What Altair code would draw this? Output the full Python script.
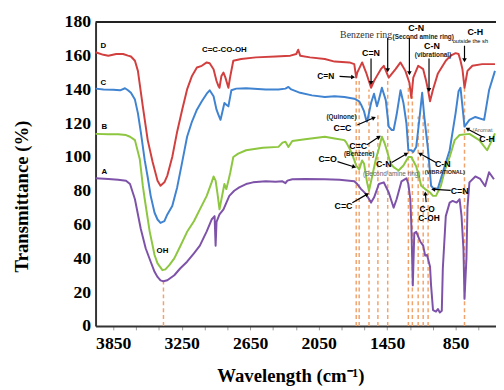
import math
import altair as alt
import pandas as pd

# ---------------- layout constants ----------------
W, H = 407, 309
X_LO, X_HI = 496, 4005
Y_LO, Y_HI = 0, 180

# ---------------- spectra ----------------
D_wn = [4005, 3936, 3893, 3824, 3764, 3721, 3695, 3660, 3634, 3591, 3548, 3505, 3462, 3436, 3402, 3376, 3333, 3290, 3246, 3203,
        3160, 3117, 3074, 3031, 3005, 2971, 2945, 2928, 2919, 2902, 2884, 2867, 2841, 2824, 2798, 2729, 2600, 2427, 2298, 2246,
        2229, 2212, 2126, 1996, 1910, 1781, 1738, 1721, 1712, 1669, 1634, 1591, 1565, 1548, 1505, 1479, 1436, 1376, 1333, 1290,
        1255, 1238, 1221, 1178, 1134, 1108, 1091, 1074, 1048, 1005, 936, 893, 850, 824, 807, 790, 772, 746, 703, 617, 505]
D_val = [162, 160.5, 160, 161, 161, 160, 159.5, 157, 151, 130, 110, 97, 86, 83, 85, 89, 100, 115, 128, 140,
         148, 153, 154, 156, 155.5, 152, 145, 142, 141, 148, 150, 147, 141, 148, 157, 158, 159, 159.5, 160, 161,
         163.5, 160, 159, 158, 156.5, 156, 155, 147, 150, 156, 150, 141, 145, 147, 152, 154, 147, 152, 156, 151,
         144, 135, 147, 154, 152, 145, 139.5, 133, 140, 149.5, 157, 160, 161.5, 161, 157, 152, 141, 151, 154, 155, 155]

C_wn = [4005, 3936, 3850, 3790, 3747, 3721, 3695, 3660, 3634, 3609, 3574, 3548, 3522, 3488, 3462, 3436, 3402, 3376, 3333, 3290,
        3246, 3203, 3160, 3117, 3074, 3031, 3005, 2971, 2945, 2928, 2910, 2893, 2876, 2859, 2841, 2815, 2772, 2686, 2514, 2402,
        2341, 2315, 2290, 2212, 2109, 1996, 1910, 1824, 1738, 1695, 1678, 1652, 1634, 1626, 1609, 1591, 1565, 1539, 1522, 1496,
        1462, 1436, 1410, 1393, 1367, 1333, 1307, 1281, 1264, 1238, 1221, 1195, 1178, 1160, 1143, 1126, 1108, 1091, 1065, 1039,
        1005, 962, 902, 850, 824, 807, 790, 772, 729, 677, 600, 557, 505]
C_val = [140.5, 140, 139.8, 139.5, 140.7, 139.5, 138, 134, 126, 115, 98, 88, 77, 67, 63, 61, 62, 66, 71, 82,
         97, 112, 121, 128, 133, 137.5, 139.5, 136, 128, 125, 122, 127, 132, 131, 130, 139.5, 140.5, 140.7, 140, 140,
         140.5, 141.5, 140, 138, 136.5, 135.5, 136, 135.5, 134.5, 133, 131, 127, 122, 121, 126, 132, 137.5, 130, 134, 141,
         133.7, 118, 116, 116, 125, 139.5, 132, 120, 104, 104, 103, 106, 116, 127, 138, 125, 114, 104, 83, 81,
         81.5, 91, 104, 126, 139, 141, 130, 118, 122, 123.7, 122, 139.5, 151]

B_wn = [4005, 3893, 3807, 3738, 3703, 3660, 3617, 3591, 3574, 3531, 3488, 3462, 3419, 3393, 3359, 3315, 3264, 3203, 3143, 3091,
        3031, 2988, 2971, 2953, 2936, 2919, 2902, 2876, 2859, 2841, 2824, 2798, 2755, 2686, 2540, 2402, 2367, 2341, 2315, 2281,
        2169, 1996, 1910, 1824, 1807, 1764, 1721, 1695, 1669, 1652, 1626, 1609, 1583, 1548, 1522, 1496, 1471, 1453, 1419, 1393,
        1350, 1307, 1264, 1238, 1195, 1169, 1152, 1117, 1074, 1048, 1022, 979, 945, 902, 858, 815, 729, 643, 574, 531, 505]
B_val = [113.7, 113.5, 113.5, 113, 112, 110, 98.5, 83, 75, 56, 42, 37, 33, 33.5, 36, 40, 47, 55.7, 62, 69,
         77, 85, 88.5, 86, 78, 69, 75, 84, 81, 86, 91, 100, 102, 104, 105.5, 106, 108.5, 109, 106, 109.5,
         110.5, 112, 111, 110, 108.5, 103, 95, 92.6, 98, 96, 85, 80, 88, 99, 105, 112, 108, 104, 96, 94,
         92, 95, 100, 100, 94.4, 88, 83, 81, 79, 77, 77, 83, 92, 100, 110, 113, 113.7, 110, 104, 110, 114]

A_wn = [4005, 3893, 3807, 3738, 3703, 3660, 3609, 3566, 3522, 3488, 3462, 3436, 3410, 3376, 3315, 3264, 3203, 3143, 3091, 3031,
        2988, 2962, 2953, 2945, 2919, 2884, 2833, 2790, 2746, 2686, 2626, 2514, 2427, 2367, 2341, 2324, 2281, 2169, 1996, 1867,
        1738, 1712, 1678, 1634, 1591, 1565, 1522, 1479, 1436, 1393, 1367, 1324, 1281, 1264, 1247, 1238, 1225, 1212, 1195, 1160,
        1134, 1117, 1100, 1074, 1065, 1048, 1022, 1005, 988, 971, 962, 936, 902, 876, 841, 815, 798, 781, 772, 755,
        746, 729, 677, 634, 591, 557, 514]
A_val = [87.4, 87, 86.5, 86, 84, 75, 57.5, 46, 38, 32, 29, 27, 26.4, 27, 30, 34, 38, 43, 47.5, 56,
         63, 65, 47.5, 61.6, 66, 69, 77, 80, 82, 84, 85, 85.6, 85.3, 85.6, 84.5, 86, 86.8, 87, 86.8, 86.5,
         85.6, 84, 81, 78, 73, 76, 84, 85, 79, 70, 75, 85.6, 87.4, 84, 75, 60, 24, 55, 55.7, 50,
         47.5, 41.6, 42, 35, 24, 9.4, 8.5, 10, 8, 9, 34, 65, 73, 74, 73, 75, 65, 45, 16, 40,
         70, 85, 88.5, 87, 82.7, 91, 86.8]

series_names = ["A", "B", "C", "D"]
series_colors = ["#7D52A8", "#8DC63F", "#3F83D1", "#D23F3F"]

# ---------------- reference (dashed) lines ----------------
VL_wn = [3410, 1721, 1695, 1609, 1531, 1445, 1264, 1229, 1178, 1134, 1091, 772]
VL_top = [26, 146, 146, 140, 125, 146, 143, 136, 124, 125, 120, 141]

# ---------------- annotations ----------------
BOLD_txt = ["D", "C", "B", "A", "C=C-CO-OH", "OH", "C=N", "C=N", "C-N", "C-N", "C-H",
            "C=C", "C=C", "C=O", "C-N", "C-N", "C=N", "C-O", "C-OH", "C=C", "C-H"]
BOLD_wn = [3936, 3936, 3928, 3928, 2876, 3419, 1988, 1591, 1195, 1057, 677,
           1841, 1703, 1971, 1479, 962, 815, 1100, 1083, 1832, 574]
BOLD_val = [165.9, 143.6, 117.8, 90.9, 163.6, 44.6, 147.7, 161.8, 176.5, 165.9, 174.1,
            117.3, 106.7, 98.5, 95.6, 95.6, 79.7, 69.2, 63.9, 70.9, 110.8]
BOLD_size = [8, 8, 8, 8, 8, 8, 8.5, 9, 9, 9, 9,
             9, 9, 9, 9, 9, 9, 8.5, 8.5, 9, 9]

SMALL_txt = ["(Second amine ring)", "(vibrational)", "(Quinone)", "(Benzene)", "(VIBRATIONAL)"]
SMALL_wn = [1134, 1048, 1850, 1695, 945]
SMALL_val = [171.2, 160.6, 123.4, 101.9, 90.9]
SMALL_size = [6.5, 6.5, 6.5, 6.5, 5.5]

GRAY_txt = ["(Second amine ring)"]
GRAY_wn = [1410]
GRAY_val = [89.7]

LEFT_txt = ["outside the sh", "(Aromat"]
LEFT_wn = [876, 703]
LEFT_val = [168.9, 116.1]
LEFT_color = ["#000000", "#666666"]
LEFT_size = [5.8, 5.8]

SERIF_txt = ["Benzene ring"]
SERIF_wn = [1634]
SERIF_val = [172.4]

AR_x1 = [1867, 1591, 1445, 1255, 1083, 772, 1712, 1626, 1885, 1410, 1022, 893, 1108, 1755, 617]
AR_y1 = [147.7, 158.3, 170.6, 170.6, 158.3, 165.9, 119.0, 107.3, 97.3, 96.7, 96.7, 80.3, 73.3, 72.9, 112.0]
AR_x2 = [1729, 1591, 1445, 1255, 1083, 772, 1548, 1505, 1721, 1264, 1178, 1065, 1117, 1609, 764]
AR_y2 = [147.2, 142.5, 150.1, 148.3, 138.4, 156.0, 123.7, 112.6, 93.8, 102.6, 102.6, 80.9, 79.7, 78.6, 117.3]

# ---------------- tables ----------------
rows = []
for name, wn, val in [("A", A_wn, A_val), ("B", B_wn, B_val), ("C", C_wn, C_val), ("D", D_wn, D_val)]:
    for w, v in zip(wn, val):
        rows.append({"wn": w, "val": v, "series": name})
curves = pd.DataFrame(rows)

vlines = pd.DataFrame({"wn": VL_wn, "val": [0] * len(VL_wn), "top": VL_top})

KX = W / (X_HI - X_LO)
KY = H / (Y_HI - Y_LO)
ar_rows = []
for x1, y1, x2, y2 in zip(AR_x1, AR_y1, AR_x2, AR_y2):
    dx = (x1 - x2) * KX
    dy = (y1 - y2) * KY
    L = math.hypot(dx, dy)
    ux, uy = dx / L, dy / L
    ang = math.degrees(math.atan2(dx, -dy)) % 360
    ar_rows.append({
        "wn": x1, "val": y1,
        "ex": x2 + ux * 3.5 / KX, "ey": y2 + uy * 3.5 / KY,
        "hx": x2 + ux * 2.2 / KX, "hy": y2 + uy * 2.2 / KY,
        "ang": ang,
    })
arrows = pd.DataFrame(ar_rows)

bold = pd.DataFrame({"wn": BOLD_wn, "val": BOLD_val, "txt": BOLD_txt, "fs": BOLD_size})
small = pd.DataFrame({"wn": SMALL_wn, "val": SMALL_val, "txt": SMALL_txt, "fs": SMALL_size})
gray = pd.DataFrame({"wn": GRAY_wn, "val": GRAY_val, "txt": GRAY_txt})
left = pd.DataFrame({"wn": LEFT_wn, "val": LEFT_val, "txt": LEFT_txt, "col": LEFT_color, "fs": LEFT_size})
serif = pd.DataFrame({"wn": SERIF_wn, "val": SERIF_val, "txt": SERIF_txt})

# ---------------- scales / axes ----------------
xs = alt.Scale(domain=[X_LO, X_HI], reverse=True, nice=False, zero=False)
ys = alt.Scale(domain=[Y_LO, Y_HI], nice=False, zero=False)

x_axis = alt.Axis(
    values=list(range(3850, 400, -200)), format="d",
    labelExpr="(3850 - datum.value) % 600 == 0 ? datum.label : ''",
    labelOverlap=False, labelFlush=False,
    tickSize=4, tickColor="#999999", labelPadding=5,
    title="Wavelength (cm⁻¹)", titleX=198, titleY=50,
    titleAlign="center", titleBaseline="middle",
)
y_axis = alt.Axis(
    values=list(range(0, 181, 20)), ticks=False, labelPadding=5,
    title="Transmittance (%)", titleAngle=270, titleX=-75, titleY=177,
    titleAlign="center", titleBaseline="middle",
)


def X(f="wn"):
    return alt.X(f"{f}:Q", scale=xs, axis=x_axis)


def Y(f="val"):
    return alt.Y(f"{f}:Q", scale=ys, axis=y_axis)


dash_layer = alt.Chart(vlines).mark_rule(color="#F2A36B", strokeWidth=1.5, strokeDash=[4, 3]).encode(
    x=X(), y=Y(), y2="top:Q")

curve_layer = alt.Chart(curves).mark_line(strokeWidth=2, strokeJoin="round").encode(
    x=X(), y=Y(),
    color=alt.Color("series:N", scale=alt.Scale(domain=series_names, range=series_colors), legend=None),
    detail="series:N",
)

top_border = alt.Chart(pd.DataFrame({"val": [Y_HI]})).mark_rule(color="#222222", strokeWidth=2).encode(y=Y())

shaft_layer = alt.Chart(arrows).mark_rule(color="#000000", strokeWidth=1.2).encode(
    x=X(), y=Y(), x2="ex:Q", y2="ey:Q")
head_layer = alt.Chart(arrows).mark_point(shape="triangle-up", filled=True, color="#000000", opacity=1, size=22).encode(
    x=X("hx"), y=Y("hy"), angle=alt.Angle("ang:Q", scale=None))

bold_layer = alt.Chart(bold).mark_text(font="Liberation Sans", fontWeight="bold", color="#000000").encode(
    x=X(), y=Y(), text="txt:N", size=alt.Size("fs:Q", scale=None))
small_layer = alt.Chart(small).mark_text(font="Liberation Sans", fontWeight="bold", color="#222222").encode(
    x=X(), y=Y(), text="txt:N", size=alt.Size("fs:Q", scale=None))
gray_layer = alt.Chart(gray).mark_text(font="Liberation Sans", fontSize=6.5, color="#666666").encode(
    x=X(), y=Y(), text="txt:N")
left_layer = alt.Chart(left).mark_text(font="Liberation Sans", align="left").encode(
    x=X(), y=Y(), text="txt:N", color=alt.Color("col:N", scale=None), size=alt.Size("fs:Q", scale=None))
serif_layer = alt.Chart(serif).mark_text(font="Liberation Serif", fontSize=10, color="#333333").encode(
    x=X(), y=Y(), text="txt:N")

chart = alt.layer(
    dash_layer, curve_layer, top_border, shaft_layer, head_layer,
    bold_layer, small_layer, gray_layer, left_layer, serif_layer,
).properties(
    width=W, height=H,
    autosize=alt.AutoSizeParams(type="none"),
    padding={"left": 89, "top": 11, "right": 0, "bottom": 61},
).configure_view(stroke=None).configure_axis(
    grid=False, domainColor="#333333", domainWidth=2,
    labelFont="Liberation Serif", labelFontWeight="bold", labelFontSize=18, labelColor="#000000",
    titleFont="Liberation Serif", titleFontWeight="bold", titleFontSize=19, titleColor="#000000",
)

chart.save("out.html", embed_options={"renderer": "svg", "actions": False})
